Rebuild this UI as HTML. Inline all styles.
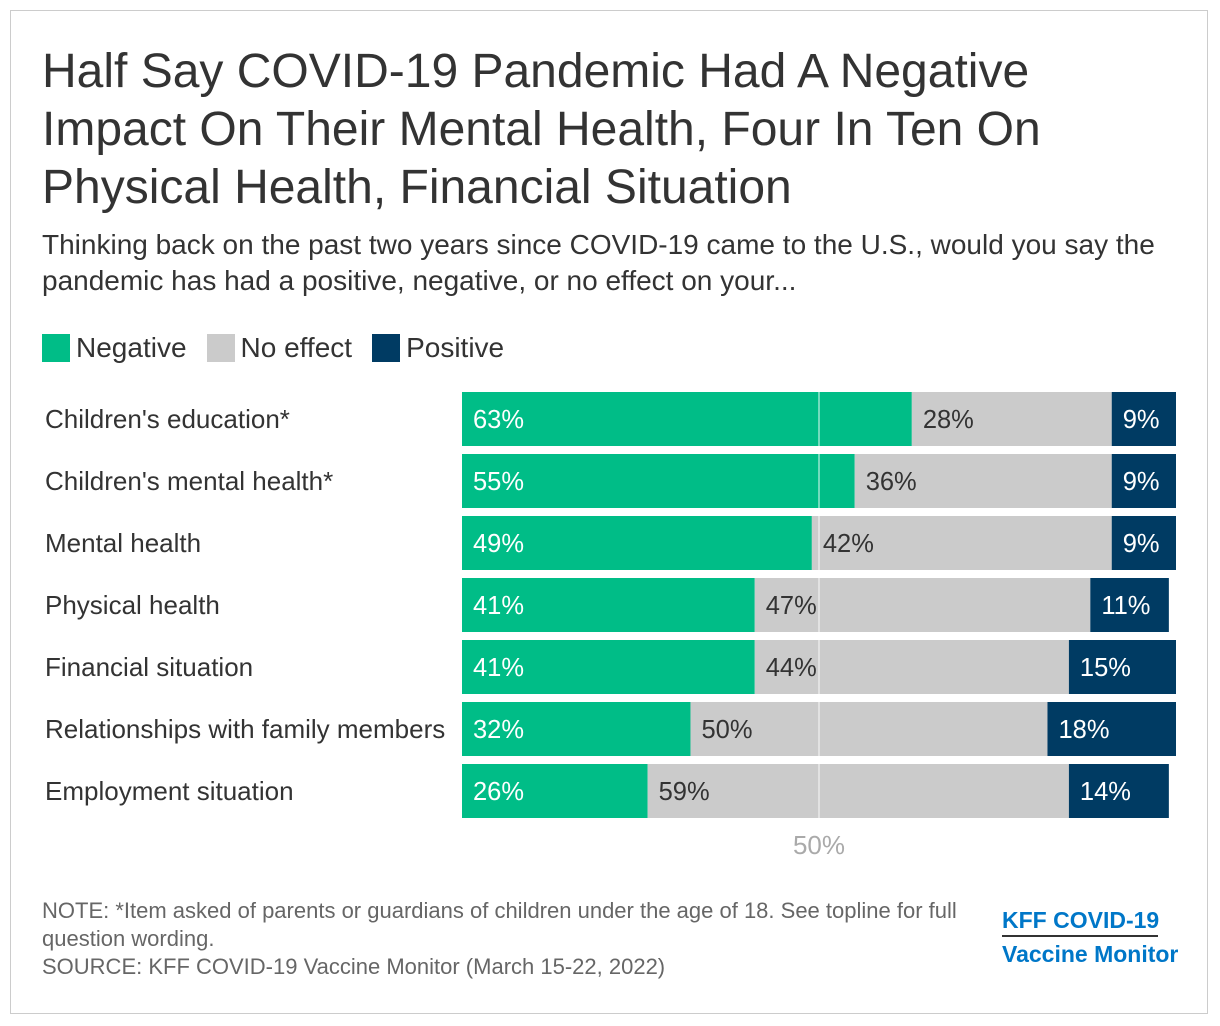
<!DOCTYPE html>
<html><head><meta charset="utf-8"><style>
body{margin:0;width:1220px;height:1026px;background:#fff;font-family:"Liberation Sans",sans-serif;position:relative;overflow:hidden}
.frame{position:absolute;left:10px;top:10px;width:1198px;height:1004px;border:1px solid #ccc;box-sizing:border-box}
.t{position:absolute;margin:0}
</style></head><body>
<div class="frame"></div>
<h1 class="t" style="left:42px;top:43px;font-size:48px;line-height:58px;font-weight:normal;color:#333;width:1080px">Half Say COVID-19 Pandemic Had A Negative Impact On Their Mental Health, Four In Ten On Physical Health, Financial Situation</h1>
<p class="t" style="left:42px;top:227px;font-size:28px;line-height:36px;color:#333;width:1150px">Thinking back on the past two years since COVID-19 came to the U.S., would you say the pandemic has had a positive, negative, or no effect on your...</p>
<div class="t" style="left:42px;top:333px;font-size:28px;color:#333;display:flex;align-items:center;height:30px">
<span style="width:28px;height:28px;background:#00bd87;margin-right:6px"></span><span style="margin-right:20px">Negative</span>
<span style="width:28px;height:28px;background:#cbcbcb;margin-right:6px"></span><span style="margin-right:20px">No effect</span>
<span style="width:28px;height:28px;background:#003b63;margin-right:6px"></span><span>Positive</span>
</div>
<svg id="chart" style="position:absolute;left:0;top:0" width="1220" height="880"></svg>
<p class="t" style="left:42px;top:897px;font-size:22px;line-height:28px;color:#666;width:940px">NOTE: *Item asked of parents or guardians of children under the age of 18. See topline for full question wording.<br>SOURCE: KFF COVID-19 Vaccine Monitor (March 15-22, 2022)</p>
<div class="t" style="left:1002px;top:905px;font-family:'Liberation Sans',sans-serif;font-weight:bold;color:#0077c8;font-size:23px;line-height:30px;white-space:nowrap">
<div style="border-bottom:2px solid #333;width:156px">KFF COVID-19</div>
<div style="margin-top:2px">Vaccine Monitor</div>
</div>
<script>
const categories=["Children's education*","Children's mental health*","Mental health","Physical health","Financial situation","Relationships with family members","Employment situation"];
const negative=[63,55,49,41,41,32,26];
const noEffect=[28,36,42,47,44,50,59];
const positive=[9,9,9,11,15,18,14];
const svg=document.getElementById('chart');
const NS='http://www.w3.org/2000/svg';
const x0=462,pxPer=7.14,y0=392,pitch=62,bh=54;
const xs=v=>x0+v*pxPer;
function el(t,a){const e=document.createElementNS(NS,t);for(const k in a)e.setAttribute(k,a[k]);svg.appendChild(e);return e;}
categories.forEach((c,i)=>{
const y=y0+i*pitch;
const lab=el('text',{x:45,y:y+bh/2+9,'font-size':26,fill:'#333'});lab.textContent=c;


const segs=[[negative[i],'#00bd87','#fff','bar-negative'],[noEffect[i],'#cbcbcb','#333','bar-no-effect'],[positive[i],'#003b63','#fff','bar-positive']];
let acc=0;
segs.forEach(s=>{
const r=el('rect',{x:xs(acc),y:y,width:s[0]*pxPer,height:bh,fill:s[1]});


const t=el('text',{x:xs(acc)+11,y:y+bh/2+9,'font-size':25.5,fill:s[2]});t.textContent=s[0]+'%';


acc+=s[0];
});
});
const gl=el('line',{x1:xs(50),x2:xs(50),y1:y0,y2:y0+6*pitch+bh,stroke:'#fff','stroke-opacity':0.6,'stroke-width':1.5});


const tk=el('text',{x:xs(50),y:854,'font-size':26,fill:'#aaa','text-anchor':'middle'});tk.textContent='50%';


</script>
</body></html>
